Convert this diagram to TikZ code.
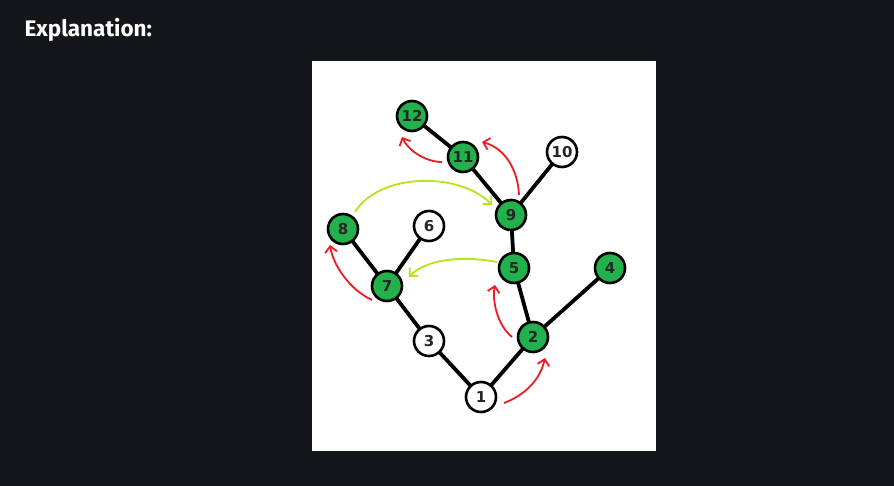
\documentclass[tikz,border=0pt]{standalone}
\usepackage{fontspec}
\setmainfont{DejaVu Sans}
\newfontfamily\titlefont{Fira Sans}
\usetikzlibrary{arrows.meta}

\definecolor{bgdark}{HTML}{15161A}
\definecolor{visgreen}{HTML}{22B14C}
\definecolor{redarr}{HTML}{ED1C24}
\definecolor{limearr}{HTML}{B5E61D}

\tikzset{
  vtx/.style={circle, draw=black, line width=2.6pt, fill=white, minimum size=30pt, inner sep=0pt,
    font=\fontsize{15}{15}\selectfont\bfseries, text=black!85},
  seen/.style={vtx, fill=visgreen},
  edge/.style={line width=3.8pt},
  redmove/.style={draw=redarr, line width=1.8pt, -{Straight Barb[length=6pt,width=12pt]}},
  limemove/.style={draw=limearr, line width=1.8pt, -{Straight Barb[length=6pt,width=12pt]}}
}

\begin{document}
\begin{tikzpicture}[x=1pt,y=-1pt]
    \fill[bgdark] (0,0) rectangle (894,486);
    \useasboundingbox (0,0) rectangle (894,486);
    \node[anchor=west, text=white, font=\titlefont\fontsize{22.5}{22.5}\selectfont\bfseries] (title) at (21,30) {Explanation:};
    \fill[white] (312,61) rectangle (656,451);

    % tree
    \draw[edge] (412,116) -- (463,157) -- (511,215) -- (562,152);
    \draw[edge] (511,215) -- (514,268) -- (533,337) -- (610,268);
    \draw[edge] (533,337) -- (481,397) -- (429,341) -- (387,286) -- (343,229);
    \draw[edge] (387,286) -- (429,226);

    \node[seen] (n12) at (412,116) {12};
    \node[seen] (n11) at (463,157) {11};
    \node[vtx]  (n10) at (562,152) {10};
    \node[seen] (n9)  at (511,215) {9};
    \node[seen] (n8)  at (343,229) {8};
    \node[vtx]  (n6)  at (429,226) {6};
    \node[seen] (n5)  at (514,268) {5};
    \node[seen] (n4)  at (610,268) {4};
    \node[seen] (n7)  at (387,286) {7};
    \node[vtx]  (n3)  at (429,341) {3};
    \node[seen] (n2)  at (533,337) {2};
    \node[vtx]  (n1)  at (481,397) {1};

    % red moves
    \draw[redmove] ([shift={(23,6)}]n1.center) .. controls (525,395) and (540,380) .. ([shift={(12,21)}]n2.center);
    \draw[redmove] ([shift={(-21,0)}]n2.center) .. controls (497,325) and (492,300) .. ([shift={(-19,17)}]n5.center);
    \draw[redmove] ([shift={(-15,14)}]n7.center) .. controls (350,290) and (333,265) .. ([shift={(-13,16)}]n8.center);
    \draw[redmove] ([shift={(8,-20)}]n9.center) .. controls (518,170) and (505,148) .. ([shift={(19,-15)}]n11.center);
    \draw[redmove] ([shift={(-21,5)}]n11.center) .. controls (425,162) and (408,150) .. ([shift={(-10,21)}]n12.center);

    % lime moves
    \draw[limemove] ([shift={(12,-17)}]n8.center) .. controls (380,172) and (460,172) .. ([shift={(-19,-10)}]n9.center);
    \draw[limemove] ([shift={(-17,-6)}]n5.center) .. controls (460,255) and (425,260) .. ([shift={(22,-9)}]n7.center);
\end{tikzpicture}
\end{document}
